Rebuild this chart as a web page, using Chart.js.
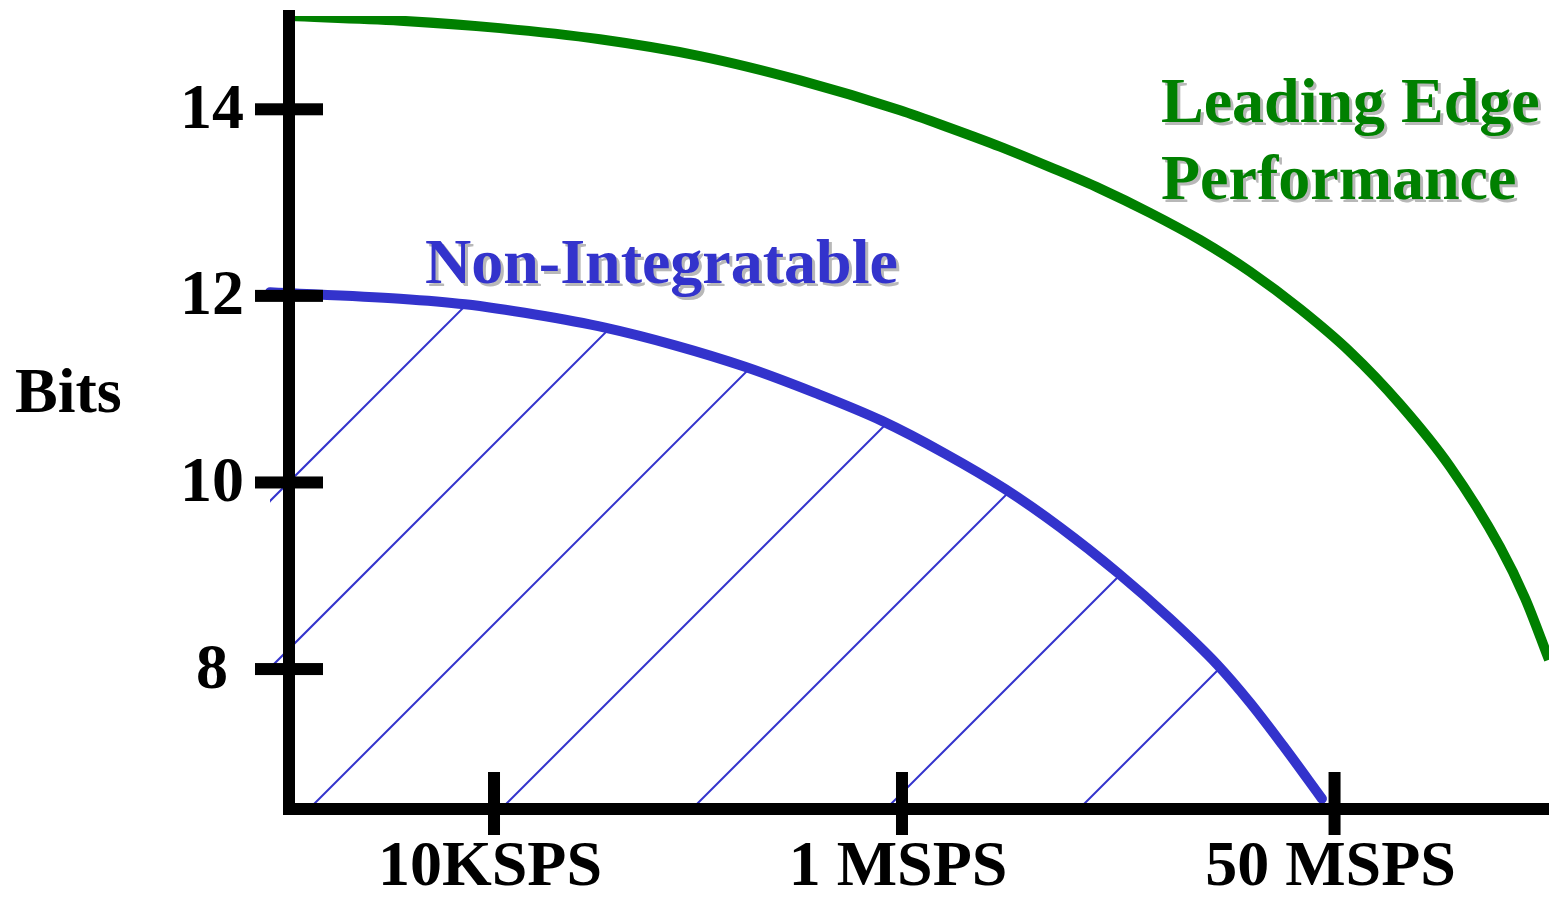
<!DOCTYPE html>
<html>
<head>
<meta charset="utf-8">
<script src="https://cdn.jsdelivr.net/npm/chart.js@4.4.0/dist/chart.umd.min.js"></script>
<style>
html,body{margin:0;padding:0;background:#fff;overflow:hidden;}
#wrap{width:1549px;height:897px;}
</style>
</head>
<body>
<div id="wrap"><canvas id="c" width="1549" height="897"></canvas></div>
<script>
// ---- data (x: relative sample-rate position 0..100 along axis, y: bits) ----
const xTickValues = [16.27, 48.65, 82.98];
const xTickLabels = ['10KSPS', '1 MSPS', '50 MSPS'];
const yTickValues = [8, 10, 12, 14];

const leadingX = [0, 8.81, 16.75, 24.68, 32.62, 40.56, 48.49, 52.46, 56.43, 60.40, 64.37, 68.33, 72.30, 76.27, 80.24, 84.21, 88.17, 92.14, 96.11, 98.10, 100.0];
const leadingY = [15.00, 14.95, 14.87, 14.75, 14.57, 14.31, 13.99, 13.80, 13.60, 13.38, 13.15, 12.89, 12.60, 12.26, 11.86, 11.40, 10.84, 10.17, 9.31, 8.76, 8.10];

const nonIntX = [-1.51, 8.81, 13.97, 19.52, 25.08, 30.63, 36.19, 41.75, 47.06, 52.06, 56.83, 61.19, 65.79, 69.92, 73.65, 76.27, 78.89, 81.98];
const nonIntY = [12.04, 11.97, 11.91, 11.80, 11.66, 11.47, 11.24, 10.96, 10.66, 10.31, 9.93, 9.52, 9.03, 8.54, 8.05, 7.64, 7.18, 6.61];

// hatch lines: x position where each 45° hatch line meets the bottom of the plot
const hatchStarts = [-25.95, -12.70, 1.59, 16.83, 31.98, 47.38, 62.70];

const Y_MIN = 6.5, Y_MAX = 15, X_MIN = 0, X_MAX = 100;

const BLUE = '#3333CC';
const GREEN = '#008000';
const FONT = '"Liberation Serif", "Times New Roman", serif';

const toPts = (xs, ys) => xs.map((x, i) => ({x: x, y: ys[i]}));

const noPad = s => { s.paddingTop = 0; s.paddingBottom = 0; s.paddingLeft = 0; s.paddingRight = 0; };

const decor = {
  id: 'decor',
  beforeDatasetsDraw(chart) {
    const ctx = chart.ctx;
    const meta = chart.getDatasetMeta(1);
    const line = meta.dataset;
    const pts = meta.data;
    if (!line || !pts.length) return;
    const xs = chart.scales.x, ys = chart.scales.y;
    const bottom = ys.getPixelForValue(Y_MIN);
    line.updateControlPoints(chart.chartArea, 'x');
    ctx.save();
    ctx.beginPath();
    line.path(ctx);
    ctx.lineTo(pts[pts.length - 1].x, bottom);
    ctx.lineTo(pts[0].x, bottom);
    ctx.closePath();
    ctx.clip();
    ctx.strokeStyle = BLUE;
    ctx.lineWidth = 2;
    hatchStarts.forEach(h => {
      const px = xs.getPixelForValue(h);
      ctx.beginPath();
      ctx.moveTo(px, bottom);
      ctx.lineTo(px + 1200, bottom - 1200);
      ctx.stroke();
    });
    ctx.restore();
  },
  afterDraw(chart) {
    const ctx = chart.ctx;
    const xs = chart.scales.x, ys = chart.scales.y;
    const axX = xs.left, axY = ys.bottom;
    ctx.save();
    ctx.fillStyle = '#000';
    yTickValues.forEach(v => {
      const py = ys.getPixelForValue(v);
      ctx.fillRect(axX - 34, py - 6, 68, 12);
    });
    xTickValues.forEach(v => {
      const px = xs.getPixelForValue(v);
      ctx.fillRect(px - 6, axY - 37, 12, 63);
    });
    // annotations
    ctx.font = 'bold 64px ' + FONT;
    ctx.textAlign = 'left';
    ctx.textBaseline = 'alphabetic';
    const shadowText = (t, x, y, c) => {
      ctx.fillStyle = '#b8b8b8';
      ctx.fillText(t, x + 3, y + 3);
      ctx.fillStyle = c;
      ctx.fillText(t, x, y);
    };
    shadowText('Non-Integratable', 425, 283, BLUE);
    shadowText('Leading Edge', 1161, 122, GREEN);
    shadowText('Performance', 1161, 199, GREEN);
    ctx.fillStyle = '#000';
    ctx.fillText('Bits', 15, 412);
    ctx.restore();
  }
};

new Chart(document.getElementById('c'), {
  type: 'line',
  data: {
    datasets: [
      {
        label: 'Leading Edge Performance',
        data: toPts(leadingX, leadingY),
        borderColor: GREEN,
        borderWidth: 10,
        cubicInterpolationMode: 'monotone',
        pointRadius: 0,
        fill: false,
        capBezierPoints: false
      },
      {
        label: 'Non-Integratable',
        data: toPts(nonIntX, nonIntY),
        borderColor: BLUE,
        borderWidth: 10,
        borderCapStyle: 'round',
        cubicInterpolationMode: 'monotone',
        pointRadius: 0,
        fill: false,
        clip: false,
        capBezierPoints: false
      }
    ]
  },
  options: {
    responsive: false,
    animation: false,
    devicePixelRatio: 1,
    layout: {padding: {top: 16, right: 0, left: 0, bottom: 0}},
    plugins: {legend: {display: false}, tooltip: {enabled: false}, title: {display: false}},
    elements: {point: {radius: 0}},
    scales: {
      x: {
        type: 'linear', min: X_MIN, max: X_MAX,
        grid: {display: false, drawTicks: false},
        border: {display: true, width: 12, color: '#000', z: 1},
        ticks: {
          color: '#000', padding: 27, maxRotation: 0, autoSkip: false, labelOffset: -4,
          font: {family: FONT, weight: 'bold', size: 64, lineHeight: 1},
          callback: (v, i) => xTickLabels[i]
        },
        afterBuildTicks: s => { s.ticks = xTickValues.map(v => ({value: v})); },
        afterFit: s => { s.height = 88; noPad(s); }
      },
      y: {
        type: 'linear', min: Y_MIN, max: Y_MAX,
        grid: {display: false, drawTicks: false},
        border: {display: true, width: 12, color: '#000', z: 1},
        ticks: {
          color: '#000', padding: 45, crossAlign: 'center', labelOffset: 2,
          font: {family: FONT, weight: 'bold', size: 64, lineHeight: 1},
          callback: v => String(v)
        },
        afterBuildTicks: s => { s.ticks = yTickValues.map(v => ({value: v})); },
        afterFit: s => { s.width = 289; noPad(s); }
      }
    }
  },
  plugins: [decor]
});
</script>
</body>
</html>
